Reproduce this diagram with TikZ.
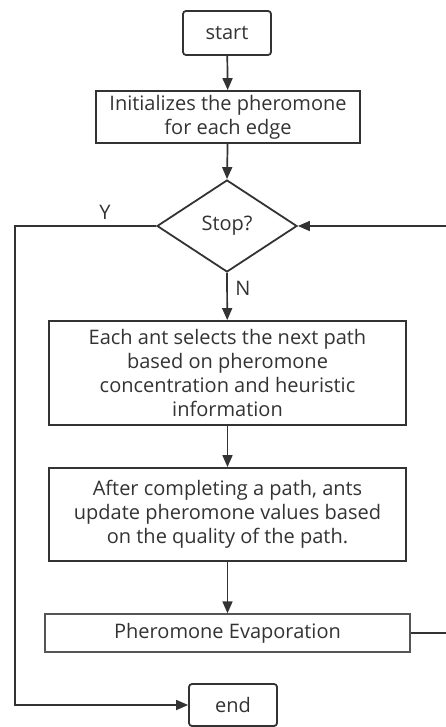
\documentclass[tikz,border=0pt]{standalone}
\usepackage{fontspec}
\setmainfont{Open Sans}
\usetikzlibrary{shapes.geometric,arrows.meta}
\definecolor{ln}{HTML}{333333}
\definecolor{lnlight}{HTML}{555555}
\tikzset{
  box/.style={draw=ln,line width=1.8pt,fill=white,align=center,inner sep=0pt,text=ln,font=\fontsize{20}{24}\selectfont},
  rbox/.style={box,rounded corners=3pt},
  arr/.style={draw=ln,line width=1.7pt,-{Triangle[length=12pt,width=10pt]}},
  lbl/.style={text=ln,font=\fontsize{20}{20}\selectfont,inner sep=0pt}
}
\begin{document}
\begin{tikzpicture}[x=1pt,y=-1pt]
\useasboundingbox (0,0) rectangle (446,727);
\node[rbox,minimum width=88pt,minimum height=44pt] (start) at (227,33) {start};
\node[box,minimum width=264pt,minimum height=52pt] (init) at (228,117) {Initializes the pheromone\\for each edge};
\node[box,diamond,minimum width=140pt,minimum height=92pt] (stop) at (227,226) {Stop?};
\node[box,minimum width=357pt,minimum height=104pt] (each) at (227.5,373) {Each ant selects the next path\\based on pheromone\\concentration and heuristic\\information};
\node[box,minimum width=357pt,minimum height=93pt] (after) at (227.5,514.5) {After completing a path, ants\\update pheromone values based\\on the quality of the path.};
\node[box,draw=lnlight,line width=1.3pt,minimum width=365pt,minimum height=38pt] (evap) at (227.5,633) {Pheromone Evaporation};
\node[rbox,minimum width=88pt,minimum height=42pt] (end) at (233,705) {end};
\node[lbl] (ylab) at (105,212) {Y};
\node[lbl] (nlab) at (243,288) {N};
\coordinate (lc1) at (15,226);
\coordinate (lc2) at (15,705);
\coordinate (rc1) at (449,633);
\coordinate (rc2) at (449,226);
\draw[arr] (start) -- (init);
\draw[arr] (init) -- (stop.north);
\draw[arr] (stop.south) -- (each);
\draw[arr] (each) -- (after);
\draw[arr] (after) -- (evap);
\draw[arr] (stop.west) -- (lc1) -- (lc2) -- (end.west);
\draw[arr] (evap.east) -- (rc1) -- (rc2) -- (stop.east);
\end{tikzpicture}
\end{document}
